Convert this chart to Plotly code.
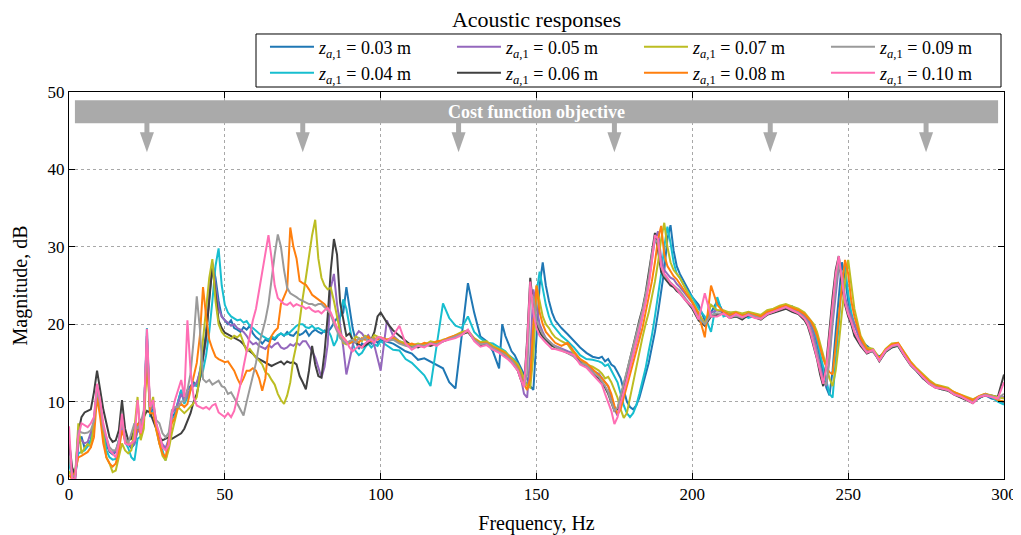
import plotly.graph_objects as go

SERIF = "Liberation Serif, Times New Roman, serif"

# Frequency sampling (Hz): 1 Hz below 100 Hz and around resonances, 2 Hz elsewhere
freq = (list(range(0, 101)) + list(range(102, 139, 2)) + list(range(139, 157))
        + list(range(158, 171, 2)) + list(range(171, 197)) + list(range(198, 237, 2))
        + list(range(237, 253)) + list(range(254, 301, 2)))

labels = ["0.03", "0.04", "0.05", "0.06", "0.07", "0.08", "0.09", "0.10"]
colors = ["#1f77b4", "#17becf", "#9467bd", "#404040", "#bcbd22", "#ff7f0e", "#9a9a9a", "#ff6eb4"]

mag_003 = [
    3.0, 0.5, 0.0, 4.5, 5.5, 4.0, 4.5, 5.0, 7.5, 12.0,
    9.5, 6.5, 4.5, 3.5, 3.2, 3.5, 5.0, 7.8, 5.2, 4.5,
    4.0, 4.5, 6.5, 5.8, 8.0, 18.5, 8.5, 9.0, 7.0, 5.0,
    4.2, 3.8, 5.0, 8.0, 8.5, 10.2, 11.5, 10.0, 11.5, 12.0,
    12.5, 12.0, 14.0, 16.0, 19.0, 24.0, 27.8, 26.0, 23.0, 21.0,
    20.5, 20.0, 20.5, 19.5, 19.3, 19.0, 19.6, 19.3, 19.8, 18.8,
    18.3, 18.0, 17.5, 18.0, 17.8, 18.2, 18.0, 18.5, 18.8, 18.5,
    19.0, 18.6, 18.5, 19.0, 18.6, 18.8, 19.2, 18.5, 19.0, 19.3,
    19.0, 18.8, 19.2, 19.0, 19.5, 20.2, 20.8, 21.0, 21.5, 24.8,
    22.0, 19.5, 17.8, 16.8, 17.5, 17.2, 18.0, 17.5, 18.0, 17.6,
    18.0,
    17.8, 17.5, 17.0, 16.5, 16.2, 15.4, 15.6, 15.2, 14.8, 14.3, 12.5, 11.7, 18.5, 25.3, 21.5, 18.4, 17.8, 16.5, 14.3,
    20.0, 18.5, 17.5, 16.5, 16.0, 15.2, 14.5, 13.5, 13.0, 12.0, 11.5, 18.0, 25.0, 28.0, 25.0, 23.0, 21.5, 20.5,
    19.5, 18.7, 17.8, 17.0, 16.3, 15.8, 15.6,
    15.8, 15.2, 15.5, 14.8, 14.5, 13.8, 13.0, 11.5, 10.0, 9.3, 9.0, 9.5, 10.5, 12.0, 13.5, 15.0, 17.0, 19.0, 21.5,
    24.0, 27.0, 31.0, 32.8, 29.5, 27.5, 26.5,
    25.0, 23.5, 22.5, 20.5, 21.5, 23.0, 21.5, 21.5, 21.0, 21.3, 21.0, 21.2, 21.0, 21.5, 21.8, 22.2, 22.0, 22.3, 21.8, 21.3,
    20.5, 20.0, 19.0, 17.5, 15.5, 13.5, 11.8, 10.8, 14.0, 19.0, 24.0, 28.0, 26.0, 23.0, 21.0, 20.0,
    18.0, 17.2, 16.5, 15.8, 16.5, 17.0, 17.3, 16.2, 15.0, 14.2, 13.2, 12.5, 12.0, 11.8, 11.5, 11.0, 10.8, 10.5, 10.0,
    10.5, 10.8, 10.4, 10.2, 9.8,
]

mag_004 = [
    2.0, 0.3, 0.5, 3.3, 3.5, 3.7, 4.2, 5.0, 7.0, 11.5,
    9.3, 6.3, 3.7, 2.8, 2.5, 2.6, 4.0, 7.2, 4.8, 4.0,
    2.8, 2.4, 5.2, 5.5, 7.2, 19.5, 8.0, 8.8, 6.5, 4.6,
    3.7, 2.4, 4.5, 8.0, 8.0, 10.0, 11.5, 9.7, 10.5, 11.5,
    12.2, 12.0, 13.0, 14.0, 16.0, 19.0, 23.0, 27.5, 29.8, 25.0,
    22.5, 21.5, 21.0, 20.8, 20.5, 20.6, 20.2, 20.4, 19.8, 19.5,
    19.1, 18.8, 18.5, 18.3, 18.0, 18.4, 18.2, 18.6, 18.8, 18.6,
    18.7, 19.0, 19.4, 19.8, 20.0, 20.0, 19.6, 19.5, 19.8, 19.4,
    19.5, 19.2, 19.0, 19.3, 18.5, 17.2, 18.0, 21.0, 23.2, 22.0,
    19.5, 17.5, 16.5, 16.0, 16.3, 17.0, 17.5, 17.0, 17.4, 17.2,
    17.8,
    17.2, 16.7, 16.6, 15.5, 15.0, 14.2, 13.4, 12.0, 17.5, 22.7, 20.8, 19.8, 19.5, 21.0, 19.0, 18.2, 17.6, 17.5, 17.0,
    16.8, 16.5, 16.0, 15.7, 15.4, 14.8, 13.5, 12.5, 12.4, 12.8, 17.0, 24.0, 26.8, 24.5, 22.5, 21.0, 20.0, 19.5,
    18.5, 17.8, 17.0, 16.0, 15.5, 15.4, 15.2,
    15.0, 14.6, 14.8, 14.0, 13.2, 12.5, 11.0, 9.5, 8.5, 8.0, 8.5, 9.5, 11.0, 12.5, 14.3, 16.5, 18.5, 21.0, 23.5,
    26.5, 30.0, 32.6, 30.5, 28.0, 26.5, 26.0,
    24.5, 23.5, 22.0, 21.0, 19.0, 23.5, 21.0, 21.3, 21.0, 21.2, 20.8, 21.1, 20.9, 21.4, 21.6, 22.0, 22.2, 22.0, 21.6, 21.2,
    20.6, 20.2, 19.3, 18.0, 16.2, 14.5, 12.5, 11.0, 10.5, 15.0, 20.0, 26.0, 27.5, 24.0, 21.5, 20.0,
    18.2, 16.8, 16.6, 15.5, 16.6, 17.2, 17.2, 16.0, 15.0, 14.0, 13.0, 12.6, 12.0, 11.6, 11.7, 11.0, 10.7, 10.3, 10.2,
    10.4, 11.0, 10.6, 10.0, 9.6,
]

mag_005 = [
    4.0, 1.0, 0.3, 5.0, 5.0, 4.6, 4.8, 6.0, 7.2, 11.5,
    9.3, 6.3, 5.2, 3.7, 3.4, 3.6, 4.8, 7.6, 5.0, 4.6,
    4.2, 4.6, 6.2, 6.2, 8.3, 18.5, 8.8, 9.5, 7.0, 5.2,
    4.5, 4.0, 5.2, 8.5, 9.0, 9.8, 11.0, 10.2, 10.8, 11.8,
    12.0, 12.5, 13.8, 15.5, 18.0, 24.0, 28.0, 25.0, 22.0, 21.0,
    20.5, 20.2, 19.8, 20.0, 19.5, 19.3, 19.0, 18.5, 17.8, 17.4,
    17.6, 17.2, 17.0, 16.8, 17.3, 17.0, 17.4, 17.6, 17.0, 16.8,
    17.0, 17.4, 17.2, 17.6, 17.3, 17.8, 17.8, 17.2, 16.5, 15.7,
    14.5, 13.1, 14.5, 17.4, 24.7, 26.5, 22.6, 20.0, 17.0, 13.5,
    15.5, 17.2, 18.5, 19.1, 18.8, 18.2, 18.6, 18.0, 17.2, 15.5,
    14.0,
    20.5, 18.5, 17.8, 17.5, 17.0, 17.3, 17.2, 17.6, 17.4, 17.8, 18.2, 18.4, 18.8, 19.0, 18.0, 17.5, 17.6, 17.0, 16.6,
    16.4, 16.2, 15.8, 15.5, 15.0, 14.5, 13.0, 11.0, 10.5, 16.0, 24.5, 22.0, 20.0, 19.0, 18.2, 17.8, 17.4, 17.2,
    16.8, 16.5, 16.2, 15.2, 14.8, 14.0, 13.6,
    13.0, 12.5, 12.0, 10.5, 9.0, 8.2, 9.5, 11.5, 13.0, 14.5, 16.0, 17.5, 19.0, 21.0, 23.0, 25.5, 28.5, 31.0, 32.0,
    28.5, 27.0, 26.5, 26.0, 25.8, 25.2, 24.8,
    23.8, 22.8, 21.2, 20.2, 21.5, 21.8, 21.5, 21.0, 21.3, 21.0, 21.4, 21.0, 20.8, 21.5, 21.7, 22.0, 22.4, 22.0, 21.6, 21.0,
    20.5, 19.8, 18.5, 16.5, 14.5, 12.8, 12.0, 15.5, 20.0, 24.0, 27.5, 26.5, 23.5, 22.0, 21.0, 19.8,
    17.8, 16.6, 16.4, 15.4, 16.6, 17.1, 17.4, 16.1, 14.9, 14.1, 13.2, 12.4, 12.0, 11.8, 11.5, 11.1, 10.6, 10.4, 10.0,
    10.6, 10.9, 10.6, 10.5, 10.6,
]

mag_006 = [
    5.0, 1.5, 0.5, 6.0, 8.0, 8.6, 8.8, 9.0, 11.2, 14.0,
    11.5, 9.0, 7.2, 5.4, 4.8, 5.0, 6.3, 10.2, 6.5, 5.0,
    5.2, 6.5, 7.0, 7.6, 8.0, 8.8, 8.6, 7.5, 6.5, 5.4,
    5.0, 5.2, 5.4, 5.2, 5.4, 5.6, 5.9, 6.5, 7.5, 8.5,
    10.0, 11.0, 12.9, 15.5, 18.5, 23.0, 27.5, 24.0, 20.5, 19.5,
    18.9, 18.7, 18.5, 18.3, 18.1, 17.8, 17.4, 16.8, 16.5, 16.2,
    15.7, 15.5, 15.2, 15.0, 14.8, 14.6, 14.8, 15.0, 15.2, 14.8,
    15.2, 15.0, 15.1, 14.8, 13.3, 12.5, 11.6, 14.0, 17.2, 14.8,
    13.3, 13.1, 16.4, 21.0, 27.0, 31.0, 29.0, 22.8, 20.5, 18.5,
    18.8, 18.0, 17.6, 17.4, 17.0, 17.2, 17.5, 18.0, 19.0, 21.0,
    21.5,
    20.2, 19.2, 18.5, 17.8, 17.2, 17.0, 17.4, 17.2, 17.5, 17.7, 18.0, 18.4, 18.6, 19.0, 18.0, 17.3, 17.4, 16.8, 16.4,
    16.2, 15.9, 15.5, 15.2, 14.6, 14.0, 12.8, 12.0, 18.0, 26.0, 22.0, 20.0, 19.0, 18.4, 18.0, 17.6, 17.2, 17.0,
    16.6, 16.2, 15.9, 15.0, 14.6, 13.6, 13.0,
    12.4, 11.8, 11.0, 10.0, 8.8, 9.0, 10.5, 12.0, 13.8, 15.5, 17.0, 18.8, 20.5, 22.0, 24.0, 26.5, 29.5, 31.8, 29.5,
    26.8, 26.0, 25.5, 25.0, 24.8, 24.3, 24.0,
    23.0, 22.0, 20.5, 19.8, 21.0, 21.2, 21.4, 20.8, 21.0, 20.6, 21.2, 20.9, 20.6, 21.2, 21.5, 21.8, 22.0, 21.6, 21.3, 20.5,
    19.8, 18.5, 17.0, 15.5, 13.5, 12.0, 15.0, 19.5, 23.5, 27.0, 28.8, 25.0, 22.5, 21.0, 20.0, 18.5,
    17.2, 16.2, 16.6, 15.2, 16.4, 17.0, 17.2, 15.9, 14.7, 13.9, 13.0, 12.3, 11.8, 11.6, 11.4, 10.9, 10.5, 10.2, 9.8,
    10.5, 10.8, 10.8, 10.6, 13.5,
]

mag_007 = [
    1.0, 0.2, 0.5, 7.2, 3.3, 4.0, 4.5, 4.2, 7.0, 11.5,
    8.5, 5.5, 2.8, 2.0, 0.9, 1.1, 2.8, 4.6, 3.7, 3.3,
    3.7, 6.5, 10.6, 5.0, 6.5, 15.5, 9.0, 10.6, 6.3, 4.6,
    3.0, 2.4, 3.8, 5.9, 7.5, 9.3, 8.9, 8.5, 8.9, 9.3,
    9.8, 10.6, 13.5, 18.0, 22.0, 26.0, 28.4, 23.0, 20.0, 19.0,
    18.5, 18.3, 18.1, 18.5, 18.3, 18.7, 17.5, 16.5, 16.8, 16.2,
    15.7, 15.3, 14.8, 13.8, 13.5, 12.8, 12.2, 11.0, 10.2, 9.7,
    10.8, 12.5, 15.5, 17.4, 20.7, 23.4, 26.0, 29.0, 31.5, 33.5,
    28.5, 26.0, 25.0, 24.5, 24.7, 23.0, 20.8, 19.0, 17.6, 17.4,
    17.6, 17.8, 18.4, 18.2, 17.8, 18.5, 18.3, 18.0, 18.6, 18.4,
    18.2,
    18.0, 18.3, 17.8, 17.5, 17.3, 17.5, 17.3, 17.8, 17.6, 18.0, 18.2, 18.6, 19.0, 19.2, 18.2, 17.7, 17.8, 17.2, 16.8,
    16.6, 16.4, 16.0, 15.6, 15.3, 14.8, 14.0, 13.0, 12.0, 11.8, 16.0, 25.0, 23.0, 21.0, 20.0, 19.5, 18.8, 18.3,
    17.8, 17.4, 16.2, 15.5, 14.8, 14.5, 14.0,
    13.6, 13.0, 13.2, 12.5, 11.5, 10.5, 9.0, 7.9, 8.5, 10.5, 12.5, 14.5, 16.5, 18.3, 20.0, 21.5, 23.5, 25.5, 28.0,
    31.0, 33.1, 30.0, 28.0, 27.0, 26.5, 26.0,
    24.5, 23.0, 21.5, 20.0, 22.5, 21.8, 21.8, 21.5, 21.6, 21.4, 21.6, 21.4, 21.2, 21.8, 22.0, 22.4, 22.6, 22.3, 22.0, 21.5,
    21.0, 20.6, 20.0, 19.0, 17.5, 16.0, 14.5, 13.0, 12.0, 14.0, 17.5, 21.5, 25.5, 28.3, 25.0, 22.0,
    18.5, 17.0, 16.8, 15.6, 16.8, 17.5, 17.6, 16.4, 15.2, 14.3, 13.5, 12.8, 12.2, 12.0, 11.8, 11.2, 10.9, 10.6, 10.3,
    10.7, 11.0, 10.8, 10.6, 10.4,
]

mag_008 = [
    0.5, 0.0, 1.0, 2.8, 3.0, 3.3, 3.5, 4.1, 5.4, 10.6,
    8.0, 4.6, 2.8, 2.0, 1.6, 2.0, 3.7, 6.3, 5.0, 4.6,
    4.6, 5.0, 7.2, 5.8, 8.0, 16.0, 8.5, 8.5, 6.3, 4.6,
    3.3, 2.8, 5.0, 7.2, 8.0, 9.3, 9.7, 9.3, 9.7, 11.5,
    13.6, 15.0, 18.5, 24.8, 21.0, 18.0, 16.8, 15.8, 15.5, 15.3,
    15.1, 15.2, 14.6, 14.0, 13.0, 12.2, 13.0, 14.0, 14.0, 14.3,
    14.0, 13.0, 11.4, 13.0, 17.0, 18.5, 19.1, 19.5, 22.6, 23.5,
    24.5, 32.5, 30.0, 28.5, 25.6, 25.3, 25.1, 24.5, 23.8, 23.5,
    23.2, 22.9, 22.6, 22.0, 21.3, 20.5, 19.5, 18.7, 18.3, 17.8,
    17.5, 17.8, 18.0, 17.6, 18.2, 18.0, 18.4, 17.8, 18.2, 18.0,
    18.3,
    18.0, 18.2, 17.6, 17.3, 17.5, 17.2, 17.6, 17.4, 17.8, 17.9, 18.3, 18.5, 18.8, 19.1, 18.1, 17.5, 17.6, 17.0, 16.7,
    16.5, 16.2, 15.8, 15.4, 15.0, 14.4, 13.2, 12.2, 11.5, 13.0, 20.0, 25.0, 21.5, 20.0, 19.0, 18.5, 18.0, 17.6,
    17.2, 17.6, 16.5, 15.5, 15.0, 14.2, 13.5,
    13.0, 12.5, 12.0, 11.0, 9.5, 8.4, 9.0, 10.5, 12.0, 13.5, 15.0, 16.5, 18.0, 19.5, 21.5, 23.5, 25.5, 28.0, 31.0,
    32.7, 29.0, 27.5, 26.8, 26.2, 25.8, 25.2,
    24.0, 22.8, 21.3, 18.3, 25.0, 22.5, 21.6, 21.2, 21.5, 21.1, 21.4, 21.2, 21.0, 21.6, 21.8, 22.2, 22.4, 22.1, 21.8, 21.3,
    20.8, 20.4, 19.6, 18.5, 17.0, 15.5, 14.5, 13.8, 13.5, 17.0, 21.0, 25.0, 28.3, 26.5, 23.0, 21.0,
    18.2, 16.8, 16.5, 15.6, 16.7, 17.4, 17.6, 16.3, 15.1, 14.2, 13.4, 12.6, 12.1, 11.9, 11.6, 11.2, 10.8, 10.5, 10.2,
    10.7, 11.0, 10.7, 10.2, 10.0,
]

mag_009 = [
    3.0, 0.5, 0.2, 6.3, 6.0, 5.9, 6.0, 6.3, 7.5, 11.5,
    9.7, 6.5, 5.4, 4.1, 3.7, 3.7, 5.0, 7.6, 5.4, 4.6,
    5.9, 7.2, 6.5, 7.2, 8.9, 17.5, 9.5, 9.7, 7.6, 7.2,
    5.9, 5.4, 6.0, 8.9, 9.3, 9.3, 10.0, 10.0, 11.5, 13.6,
    18.0, 23.6, 19.4, 12.9, 12.5, 12.8, 12.2, 12.5, 12.7, 12.0,
    11.8, 11.0, 11.2, 10.5, 9.7, 9.0, 8.2, 10.0, 11.8, 13.5,
    15.0, 17.4, 19.0, 20.5, 22.6, 26.0, 29.0, 31.6, 30.0, 27.0,
    24.7, 24.0, 23.8, 23.5, 23.2, 23.0, 22.8, 22.6, 22.6, 22.4,
    22.6, 22.6, 22.2, 21.8, 21.3, 20.0, 19.0, 18.2, 17.8, 17.5,
    17.8, 18.0, 17.6, 18.2, 18.0, 18.3, 17.8, 18.1, 18.0, 18.3,
    18.2,
    17.8, 18.0, 17.5, 17.2, 17.0, 17.3, 17.2, 17.5, 17.4, 17.8, 18.1, 18.3, 18.7, 19.2, 18.0, 17.4, 17.5, 16.9, 16.5,
    16.3, 16.0, 15.6, 15.3, 14.8, 14.2, 13.0, 12.0, 13.5, 24.0, 23.5, 20.5, 19.5, 18.7, 18.2, 17.8, 17.4, 17.1,
    16.7, 16.3, 15.8, 15.0, 14.7, 13.8, 13.2,
    12.6, 12.0, 11.2, 10.0, 8.8, 9.2, 10.8, 12.3, 13.8, 15.3, 16.8, 18.5, 20.2, 21.8, 23.8, 26.0, 29.0, 31.0, 30.5,
    27.5, 26.3, 25.8, 25.4, 25.0, 24.6, 24.3,
    23.2, 22.2, 20.8, 20.0, 21.2, 21.4, 21.3, 20.9, 21.1, 20.8, 21.3, 21.0, 20.7, 21.3, 21.6, 21.9, 22.2, 21.8, 21.5, 20.8,
    20.2, 19.2, 17.8, 16.2, 14.2, 12.5, 12.2, 16.0, 21.0, 25.0, 28.0, 26.0, 23.0, 21.5, 20.5, 19.0,
    17.5, 16.4, 16.5, 15.3, 16.5, 17.1, 17.3, 16.0, 14.8, 14.0, 13.1, 12.4, 11.9, 11.7, 11.5, 11.0, 10.6, 10.3, 9.9,
    10.6, 10.9, 10.7, 10.4, 11.0,
]

mag_010 = [
    6.8, 0.0, 0.0, 5.5, 7.2, 7.0, 6.7, 7.2, 8.0, 12.3,
    10.2, 7.2, 5.4, 3.7, 3.3, 2.8, 4.6, 8.4, 4.6, 4.4,
    4.6, 5.0, 10.2, 5.9, 8.0, 19.4, 9.3, 10.2, 7.2, 5.9,
    4.1, 3.7, 4.4, 8.4, 10.2, 11.5, 12.8, 10.6, 20.5, 14.0,
    10.5, 9.5, 9.3, 9.1, 9.3, 9.0, 9.5, 9.7, 8.6, 8.3,
    8.0, 8.5, 8.0, 8.8, 10.5, 12.2, 14.5, 16.5, 18.7, 20.5,
    22.0, 24.5, 26.9, 29.5, 31.5, 28.5, 25.0, 23.4, 23.0, 22.6,
    22.5, 22.8, 22.3, 22.6, 22.4, 22.3, 22.0, 22.2, 21.8, 21.6,
    21.7, 21.4, 21.8, 22.1, 21.5, 20.5, 19.5, 18.8, 18.2, 17.8,
    17.0, 16.5, 16.8, 17.2, 17.0, 17.5, 17.8, 18.0, 17.6, 18.3,
    18.3,
    17.8, 18.5, 19.8, 17.5, 16.7, 17.2, 17.0, 17.5, 17.2, 17.8, 18.0, 18.2, 18.6, 19.3, 17.8, 17.1, 17.3, 16.7, 16.3,
    16.0, 15.8, 15.4, 15.0, 14.5, 14.0, 12.8, 11.9, 17.5, 25.5, 21.5, 19.5, 18.5, 18.0, 17.6, 17.2, 16.8, 16.8,
    16.6, 16.3, 16.0, 14.8, 14.4, 13.5, 12.7,
    12.2, 11.0, 10.0, 8.8, 7.1, 8.0, 9.8, 11.2, 12.8, 14.4, 16.0, 17.8, 19.5, 21.0, 22.8, 25.0, 28.0, 31.5, 31.0,
    27.5, 26.5, 26.0, 25.3, 25.0, 24.5, 24.0,
    23.0, 22.3, 20.6, 24.0, 21.0, 21.0, 21.4, 20.8, 21.3, 20.9, 21.2, 20.8, 20.7, 21.3, 21.6, 21.9, 22.2, 21.8, 21.4, 20.7,
    20.0, 18.8, 17.3, 15.8, 14.0, 12.3, 14.5, 18.5, 22.5, 26.5, 28.8, 25.5, 22.8, 21.3, 20.3, 19.0,
    17.4, 16.3, 16.7, 15.3, 16.6, 17.2, 17.4, 16.0, 14.8, 14.0, 13.1, 12.3, 11.8, 11.7, 11.5, 10.9, 10.7, 10.2, 9.8,
    10.6, 10.8, 10.6, 10.4, 12.5,
]

magnitudes = [mag_003, mag_004, mag_005, mag_006, mag_007, mag_008, mag_009, mag_010]
for m in magnitudes:
    assert len(m) == len(freq), (len(m), len(freq))

objective_freqs = [25, 75, 125, 175, 225, 275]

fig = go.Figure()
for i, (lab, col, mag) in enumerate(zip(labels, colors, magnitudes)):
    fig.add_trace(go.Scatter(
        x=freq, y=mag, mode="lines",
        line=dict(color=col, width=2),
        name="<i>z</i><sub><i>a</i>,1</sub> = " + lab + " m",
        legend="legend" if i % 2 == 0 else "legend2",
        hoverinfo="skip",
    ))

shapes = []
# Cost function objective banner
shapes.append(dict(type="rect", xref="x", yref="y", x0=1.9, x1=298.1, y0=45.95, y1=48.95,
                   fillcolor="#aaaaaa", line=dict(width=0), layer="above"))
for f in objective_freqs:
    shapes.append(dict(type="rect", xref="x", yref="y", x0=f - 0.8, x1=f + 0.8, y0=44.7, y1=46.0,
                       fillcolor="#aaaaaa", line=dict(width=0), layer="above"))
    shapes.append(dict(type="path", xref="x", yref="y",
                       path=f"M {f - 2.25},44.8 L {f + 2.25},44.8 L {f},42.2 Z",
                       fillcolor="#aaaaaa", line=dict(width=0), layer="above"))
# legend frame
shapes.append(dict(type="rect", xref="paper", yref="paper", x0=0.2, x1=0.9968, y0=1.0129, y1=1.1499,
                   line=dict(color="black", width=1), fillcolor="rgba(0,0,0,0)"))

axis_common = dict(
    ticks="inside", ticklen=6, tickcolor="black", tickwidth=1,
    showline=True, linecolor="black", linewidth=1, mirror="ticks",
    showgrid=True, gridcolor="#a8a8a8", griddash="dot", gridwidth=1,
    zeroline=False, automargin=False,
    tickfont=dict(family=SERIF, size=17, color="black"),
)

leg_common = dict(
    orientation="h", xanchor="left", yanchor="middle", x=0.2096,
    font=dict(family=SERIF, size=18, color="black"),
    bgcolor="rgba(0,0,0,0)", borderwidth=0, itemwidth=44,
    entrywidth=128, entrywidthmode="pixels", itemclick=False, itemdoubleclick=False,
)

# The page shows the figure offset by the default 8 px body margin, so the
# figure is sized to the remaining window area.
W, H = 1013, 527

fig.update_layout(
    width=W, height=H,
    margin=dict(l=61, r=17, t=84, b=56, autoexpand=False),
    paper_bgcolor="white", plot_bgcolor="white",
    title=dict(text="Acoustic responses", x=0.5, xref="paper", xanchor="center",
               y=1 - 4 / H, yref="container", yanchor="top",
               font=dict(family=SERIF, size=22, color="black")),
    xaxis=dict(range=[0, 300], tick0=0, dtick=50,
               title=dict(text="Frequency, Hz", font=dict(family=SERIF, size=20, color="black"), standoff=12),
               **axis_common),
    yaxis=dict(range=[0, 50], tick0=0, dtick=10,
               title=dict(text="Magnitude, dB", font=dict(family=SERIF, size=20, color="black"), standoff=14),
               **axis_common),
    legend=dict(y=1.1163, **leg_common),
    legend2=dict(y=1.049, **leg_common),
    shapes=shapes,
    annotations=[dict(x=150, y=47.45, xref="x", yref="y", text="<b>Cost function objective</b>",
                      showarrow=False, font=dict(family=SERIF, size=18, color="white"))],
)

fig.write_html("out.html")
